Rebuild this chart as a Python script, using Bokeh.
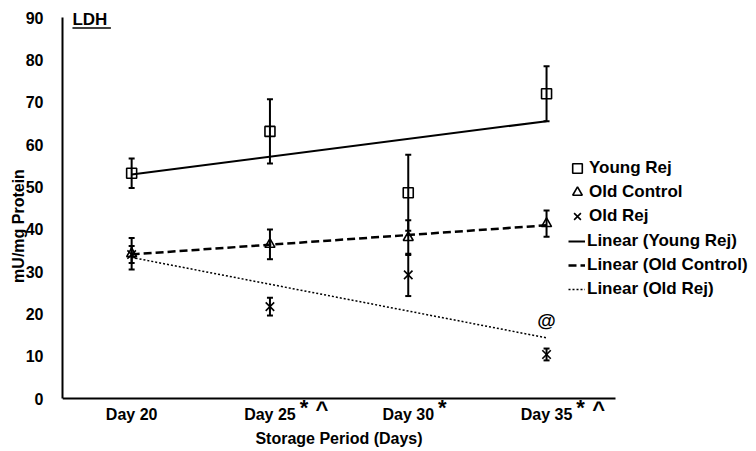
import numpy as np
from bokeh.plotting import figure
from bokeh.models import (ColumnDataSource, Whisker, TeeHead, Legend, LegendItem,
                          Label, FixedTicker, Range1d, LinearAxis)
from bokeh.embed import file_html
from bokeh.resources import INLINE

# ---------------- data ----------------
days = ["Day 20", "Day 25", "Day 30", "Day 35"]
young_rej = [53.2, 63.1, 48.6, 72.0]
young_rej_err = [3.5, 7.6, 9.0, 6.5]
old_control = [34.2, 36.4, 38.0, 41.3]
old_control_err = [3.7, 3.5, 4.1, 3.1]
old_rej = [34.0, 21.7, 29.2, 10.4]
old_rej_err = [2.0, 2.1, 5.0, 1.4]
y_ticks = [0, 10, 20, 30, 40, 50, 60, 70, 80, 90]
star_days = ["Day 25", "Day 30", "Day 35"]
caret_days = ["Day 25", "Day 35"]
at_day = "Day 35"
at_value = 18.4

FONT = "Liberation Sans"
INK = "#000000"

# ---------------- layout constants (pixels) ----------------
W, H = 756, 451
LEFT = 62            # frame left (y axis position)
PX_PER_DAY = 138.3   # horizontal spacing of categories
Y0_PX, Y90_PX = 398, 17
py = (Y0_PX - Y90_PX) / 90.0

xs = np.arange(1, len(days) + 1)
pos = {d: float(x) for d, x in zip(days, xs)}

x_lo = 0.5
x_hi = x_lo + (W - LEFT) / PX_PER_DAY
y_hi = 90 + Y90_PX / py
y_lo = -(H - Y0_PX) / py

p = figure(width=W, height=H, output_backend="svg", toolbar_location=None,
           x_range=Range1d(x_lo, x_hi), y_range=Range1d(y_lo, y_hi),
           x_axis_location=None, y_axis_location=None,
           min_border_left=LEFT, min_border_right=0, min_border_top=0,
           min_border_bottom=0)
p.outline_line_color = None
p.grid.visible = False
p.background_fill_color = "white"
p.border_fill_color = "white"

series = [
    ("Young Rej", young_rej, young_rej_err, "square", 10),
    ("Old Control", old_control, old_control_err, "triangle", 10),
    ("Old Rej", old_rej, old_rej_err, "x", 12),
]

marker_r = {}
for name, vals, errs, mk, sz in series:
    v = np.array(vals)
    e = np.array(errs)
    src = ColumnDataSource(dict(x=xs, y=v, upper=v + e, lower=v - e))
    w = Whisker(source=src, base="x", upper="upper", lower="lower",
                line_width=2, line_color=INK,
                upper_head=TeeHead(size=6, line_width=2, line_color=INK),
                lower_head=TeeHead(size=6, line_width=2, line_color=INK))
    p.add_layout(w)
    marker_r[name] = p.scatter("x", "y", source=src, marker=mk, size=sz,
                               fill_color=None, line_color=INK, line_width=1.6)

trend_styles = [
    ("Young Rej", young_rej, "solid", 2),
    ("Old Control", old_control, "8 4", 2.5),
    ("Old Rej", old_rej, "2 2", 1.5),
]
trend_r = {}
for name, vals, dash, lw in trend_styles:
    k, b = np.polyfit(xs, np.array(vals), 1)
    tx = np.array([xs[0], xs[-1]])
    trend_r[name] = p.line(tx, k * tx + b, line_color=INK, line_width=lw,
                           line_dash=dash)

# ---------------- axes ----------------
yaxis = LinearAxis(ticker=FixedTicker(ticks=y_ticks), bounds=(0, 90),
                   axis_label="mU/mg Protein")
xaxis = LinearAxis(ticker=FixedTicker(ticks=[float(x) for x in xs]),
                   bounds=(0.5, len(days) + 0.5), fixed_location=0,
                   axis_label="Storage Period (Days)")
xaxis.major_label_overrides = {float(x): d for x, d in zip(xs, days)}
for ax in (xaxis, yaxis):
    ax.axis_line_width = 2
    ax.axis_line_color = INK
    ax.major_tick_line_color = None
    ax.minor_tick_line_color = None
    ax.major_label_text_font = FONT
    ax.major_label_text_font_style = "bold"
    ax.major_label_text_font_size = "16px"
    ax.major_label_text_color = INK
    ax.axis_label_text_font = FONT
    ax.axis_label_text_font_style = "bold"
    ax.axis_label_text_font_size = "16px"
    ax.axis_label_text_color = INK
yaxis.major_label_standoff = 13
yaxis.axis_label_standoff = -4
xaxis.major_label_standoff = 1
xaxis.axis_label_standoff = 4
p.add_layout(yaxis, "left")
p.add_layout(xaxis, "below")

# ---------------- legends ----------------
common = dict(orientation="vertical", label_text_font=FONT,
              label_text_font_style="bold", label_text_font_size="17px",
              label_text_color=INK, padding=0, margin=0,
              border_line_color=None, background_fill_alpha=0)
legend_markers = Legend(
    items=[LegendItem(label=n, renderers=[marker_r[n]]) for n, *_ in series],
    location=(503, 223), glyph_width=24, glyph_height=24, spacing=0,
    label_standoff=0, **common)
legend_lines = Legend(
    items=[LegendItem(label="Linear (%s)" % n, renderers=[trend_r[n]])
           for n, *_ in trend_styles],
    location=(506, 152), glyph_width=17, glyph_height=20, spacing=4,
    label_standoff=2, **common)
p.add_layout(legend_markers)
p.add_layout(legend_lines)

# ---------------- significance marks ----------------
for d in star_days:
    p.add_layout(Label(x=pos[d], y=-2.1, x_offset=34, text="*",
                       text_font=FONT, text_font_style="bold", text_font_size="22px",
                       text_color=INK, text_align="center", text_baseline="alphabetic"))
for d in caret_days:
    p.add_layout(Label(x=pos[d], y=-2.5, x_offset=52, text="^",
                       text_font=FONT, text_font_style="bold", text_font_size="22px",
                       text_color=INK, text_align="center", text_baseline="alphabetic"))
p.add_layout(Label(x=pos[at_day], y=at_value, text="@", text_font=FONT,
                   text_font_style="bold", text_font_size="19px", text_color=INK,
                   text_align="center", text_baseline="middle"))

# ---------------- title "LDH" (underlined) ----------------
p.add_layout(Label(x=0.572, y=89.55, text="LDH", text_font=FONT,
                   text_font_style="bold", text_font_size="17px", text_color=INK,
                   text_align="left", text_baseline="alphabetic"))
p.segment(x0=[0.572], y0=[87.5], x1=[0.85], y1=[87.5], line_color=INK, line_width=1.5)

open("out.html", "w").write(file_html(p, INLINE))
